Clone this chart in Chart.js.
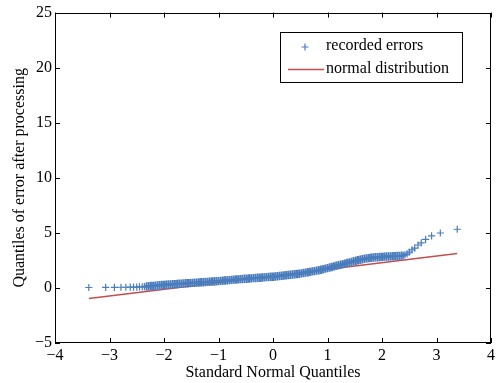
<!DOCTYPE html>
<html>
<head>
<meta charset="utf-8">
<script src="https://cdn.jsdelivr.net/npm/chart.js@4"></script>
<style>
  html, body { margin: 0; padding: 0; background: #fff; }
  #wrap { width: 498px; height: 383px; }
</style>
</head>
<body>
<div id="wrap"><canvas id="graficoQQ" width="498" height="383"></canvas></div>
<script>
// Quantis teoricos da normal padrao (eixo X)
const theoQuantiles = [
  -3.38, -3.07, -2.91, -2.79, -2.70, -2.62, -2.56, -2.50, -2.45, -2.40, -2.36,
  -2.32, -2.28, -2.24, -2.20, -2.16, -2.12, -2.08, -2.04, -2.00, -1.96,
  -1.92, -1.88, -1.84, -1.80, -1.76, -1.72, -1.68, -1.64, -1.60, -1.56,
  -1.52, -1.48, -1.44, -1.40, -1.36, -1.32, -1.28, -1.24, -1.20, -1.16,
  -1.12, -1.08, -1.04, -1.00, -0.96, -0.92, -0.88, -0.84, -0.80, -0.76,
  -0.72, -0.68, -0.64, -0.60, -0.56, -0.52, -0.48, -0.44, -0.40, -0.36,
  -0.32, -0.28, -0.24, -0.20, -0.16, -0.12, -0.08, -0.04, 0.00, 0.04,
  0.08, 0.12, 0.16, 0.20, 0.24, 0.28, 0.32, 0.36, 0.40, 0.44,
  0.48, 0.52, 0.56, 0.60, 0.64, 0.68, 0.72, 0.76, 0.80, 0.84,
  0.88, 0.92, 0.96, 1.00, 1.04, 1.08, 1.12, 1.16, 1.20, 1.24,
  1.28, 1.32, 1.36, 1.40, 1.44, 1.48, 1.52, 1.56, 1.60, 1.64,
  1.68, 1.72, 1.76, 1.80, 1.84, 1.88, 1.92, 1.96, 2.00, 2.04,
  2.08, 2.12, 2.16, 2.20, 2.24, 2.28, 2.32, 2.36,
  2.39, 2.42, 2.46, 2.50, 2.55, 2.60, 2.66, 2.72, 2.80, 2.91, 3.07, 3.38
];

// Quantis do erro registrado (eixo Y)
const errorQuantiles = [
  0.04, 0.05, 0.05, 0.06, 0.06, 0.07, 0.07, 0.08, 0.09, 0.10, 0.11,
  0.13, 0.15, 0.17, 0.19, 0.20, 0.22, 0.24, 0.26, 0.28, 0.29,
  0.31, 0.32, 0.33, 0.35, 0.36, 0.38, 0.39, 0.40, 0.42, 0.43,
  0.44, 0.46, 0.47, 0.48, 0.50, 0.51, 0.52, 0.54, 0.55, 0.56,
  0.58, 0.59, 0.61, 0.62, 0.64, 0.66, 0.67, 0.69, 0.71, 0.73,
  0.75, 0.76, 0.78, 0.80, 0.81, 0.83, 0.84, 0.86, 0.87, 0.89,
  0.90, 0.92, 0.93, 0.95, 0.96, 0.98, 0.99, 1.01, 1.02, 1.04,
  1.06, 1.09, 1.11, 1.13, 1.15, 1.18, 1.20, 1.22, 1.24, 1.27,
  1.29, 1.32, 1.35, 1.39, 1.43, 1.46, 1.50, 1.53, 1.57, 1.60,
  1.65, 1.70, 1.75, 1.80, 1.85, 1.90, 1.96, 2.01, 2.06, 2.11,
  2.16, 2.21, 2.27, 2.32, 2.37, 2.42, 2.47, 2.52, 2.56, 2.60,
  2.65, 2.68, 2.71, 2.74, 2.76, 2.78, 2.79, 2.81, 2.82, 2.84,
  2.85, 2.86, 2.87, 2.88, 2.89, 2.90, 2.91, 2.93,
  2.96, 3.00, 3.10, 3.25, 3.45, 3.62, 3.90, 4.10, 4.40, 4.72, 4.99, 5.33
];

// Reta da distribuicao normal (extremos)
const fitX = [-3.38, 3.38];
const fitY = [-0.96, 3.12];

// Rotulos dos eixos
const xTicks = [-4, -3, -2, -1, 0, 1, 2, 3, 4];
const xTickLabels = ["\u22124", "\u22123", "\u22122", "\u22121", "0", "1", "2", "3", "4"];
const yTicks = [-5, 0, 5, 10, 15, 20, 25];
const yTickLabels = ["\u22125", "0", "5", "10", "15", "20", "25"];

const seriesNames = ["recorded errors", "normal distribution"];
const xTitle = "Standard Normal Quantiles";
const yTitle = "Quantiles of error after processing";

const corPontos = "#4a7dbd";
const corReta = "#c0504d";
const fonte = "'Liberation Serif', 'Times New Roman', serif";

// pontos da faixa central ficam mais "cheios" (no original sao milhares de cruzes sobrepostas)
const isMiolo = ctx => {
  const x = theoQuantiles[ctx.dataIndex];
  return x > -2.34 && x < 2.37;
};

// Plugin: caixa, ticks para dentro (estilo MATLAB) e legenda
const caixaPlugin = {
  id: "caixa",
  afterDatasetsDraw(chart) {
    const { ctx, chartArea: a, scales } = chart;
    ctx.save();
    ctx.strokeStyle = "#000";
    ctx.lineWidth = 1;
    ctx.strokeRect(Math.round(a.left) + 0.5, Math.round(a.top) + 0.5,
      Math.round(a.right - a.left) - 1, Math.round(a.bottom - a.top) - 1);

    const tl = 5;
    ctx.beginPath();
    xTicks.forEach(v => {
      const px = Math.round(scales.x.getPixelForValue(v)) + 0.5;
      ctx.moveTo(px, a.bottom); ctx.lineTo(px, a.bottom - tl);
      ctx.moveTo(px, a.top); ctx.lineTo(px, a.top + tl);
    });
    yTicks.forEach(v => {
      const py = Math.round(scales.y.getPixelForValue(v)) + 0.5;
      ctx.moveTo(a.left, py); ctx.lineTo(a.left + tl, py);
      ctx.moveTo(a.right, py); ctx.lineTo(a.right - tl, py);
    });
    ctx.stroke();

    // Legenda
    const lx = 280.5, ly = 32.5, lw = 182, lh = 50;
    ctx.fillStyle = "#fff";
    ctx.fillRect(lx, ly, lw, lh);
    ctx.strokeRect(lx, ly, lw, lh);

    ctx.strokeStyle = corPontos;
    ctx.lineWidth = 1.2;
    ctx.beginPath();
    ctx.moveTo(305, 43.5); ctx.lineTo(305, 50.5);
    ctx.moveTo(301.5, 47); ctx.lineTo(308.5, 47);
    ctx.stroke();

    ctx.strokeStyle = corReta;
    ctx.lineWidth = 1.6;
    ctx.beginPath();
    ctx.moveTo(288, 69.5); ctx.lineTo(324, 69.5);
    ctx.stroke();

    ctx.fillStyle = "#000";
    ctx.font = "16px " + fonte;
    ctx.textBaseline = "middle";
    ctx.textAlign = "left";
    ctx.fillText(seriesNames[0], 326, 46);
    ctx.fillText(seriesNames[1], 326, 69);
    ctx.restore();
  }
};

const pontos = theoQuantiles.map((x, i) => ({ x: x, y: errorQuantiles[i] }));
const reta = fitX.map((x, i) => ({ x: x, y: fitY[i] }));

const ctx = document.getElementById("graficoQQ").getContext("2d");
new Chart(ctx, {
  type: "scatter",
  data: {
    datasets: [
      {
        label: seriesNames[0],
        data: pontos,
        pointStyle: "cross",
        pointRadius: c => (isMiolo(c) ? 4.2 : 3.6),
        pointBorderWidth: c => (isMiolo(c) ? 2 : 1.2),
        borderColor: corPontos,
        backgroundColor: corPontos,
        showLine: false
      },
      {
        label: seriesNames[1],
        data: reta,
        showLine: true,
        pointRadius: 0,
        borderColor: corReta,
        borderWidth: 1.6,
        fill: false
      }
    ]
  },
  options: {
    responsive: false,
    animation: false,
    layout: { padding: { left: 0, right: 7, top: 12, bottom: 0 } },
    plugins: {
      legend: { display: false },
      tooltip: { enabled: false }
    },
    scales: {
      x: {
        type: "linear",
        min: -4,
        max: 4,
        afterBuildTicks: s => { s.ticks = xTicks.map(v => ({ value: v })); },
        afterFit: s => { s.height = 40; },
        grid: { display: false, drawTicks: false },
        border: { display: false },
        ticks: {
          color: "#000",
          padding: 3,
          maxRotation: 0,
          font: { family: fonte, size: 16 },
          callback: v => xTickLabels[xTicks.indexOf(v)]
        },
        title: {
          display: true,
          text: xTitle,
          color: "#000",
          font: { family: fonte, size: 16 },
          padding: { top: 0, bottom: 1 }
        }
      },
      y: {
        type: "linear",
        min: -5,
        max: 25,
        afterBuildTicks: s => { s.ticks = yTicks.map(v => ({ value: v })); },
        afterFit: s => { s.width = 55; },
        grid: { display: false, drawTicks: false },
        border: { display: false },
        ticks: {
          color: "#000",
          padding: 3,
          font: { family: fonte, size: 16 },
          callback: v => yTickLabels[yTicks.indexOf(v)]
        },
        title: {
          display: true,
          text: yTitle,
          color: "#000",
          font: { family: fonte, size: 16 },
          padding: { top: 10, bottom: 0 }
        }
      }
    }
  },
  plugins: [caixaPlugin]
});
</script>
</body>
</html>
